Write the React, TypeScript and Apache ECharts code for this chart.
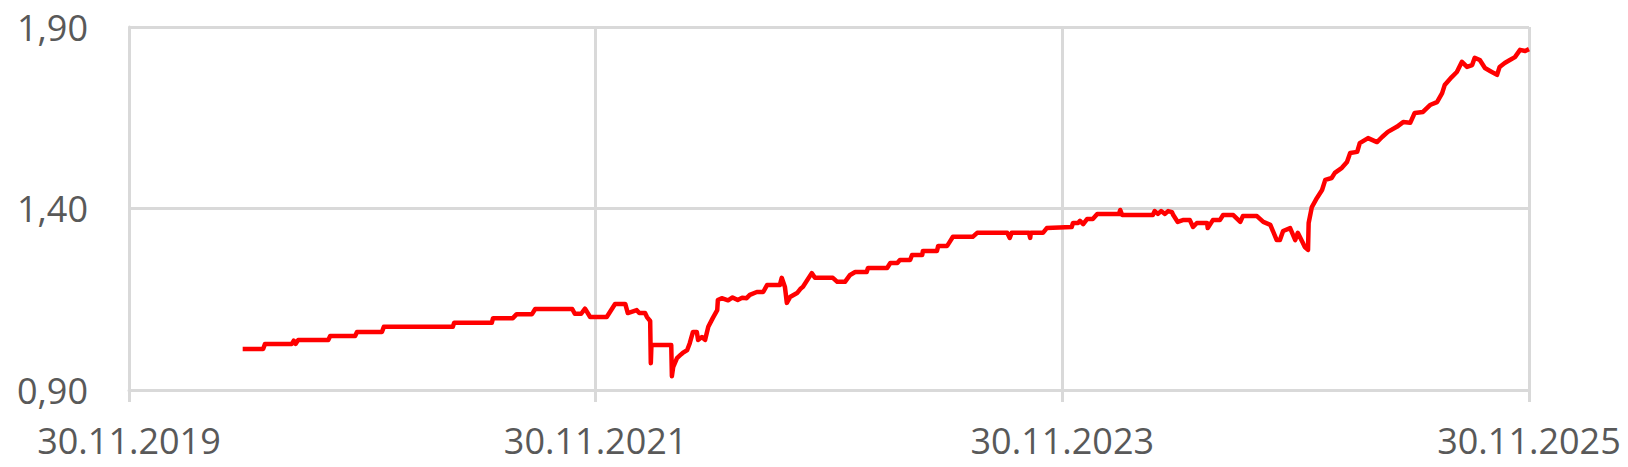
import React, { useEffect, useRef } from "react";
import * as echarts from "echarts";

const startDate = "2019-11-30";
const endDate = "2025-11-30";
const yearTicks = [2019, 2021, 2023, 2025];

const dates = [
  "2020-05-26", "2020-06-27", "2020-06-30", "2020-08-11", "2020-08-14", "2020-08-17", "2020-08-21",
  "2020-10-07", "2020-10-10", "2020-11-18", "2020-11-21", "2020-12-30", "2021-01-02", "2021-04-20",
  "2021-04-22", "2021-06-20", "2021-06-22", "2021-07-23", "2021-07-29", "2021-08-22", "2021-08-27",
  "2021-10-24", "2021-10-28", "2021-11-07", "2021-11-13", "2021-11-21", "2021-12-17", "2021-12-22",
  "2021-12-30", "2022-01-15", "2022-01-19", "2022-02-02", "2022-02-06", "2022-02-15", "2022-02-18",
  "2022-02-23", "2022-02-24", "2022-02-25", "2022-03-28", "2022-03-29", "2022-03-31", "2022-04-06",
  "2022-04-11", "2022-04-15", "2022-04-22", "2022-04-26", "2022-05-01", "2022-05-07", "2022-05-09",
  "2022-05-15", "2022-05-20", "2022-05-25", "2022-06-01", "2022-06-08", "2022-06-09", "2022-06-15",
  "2022-06-25", "2022-07-02", "2022-07-10", "2022-07-17", "2022-07-24", "2022-07-29", "2022-08-09",
  "2022-08-19", "2022-08-25", "2022-09-14", "2022-09-17", "2022-09-22", "2022-09-25", "2022-09-30",
  "2022-10-11", "2022-10-16", "2022-10-20", "2022-11-03", "2022-11-08", "2022-12-06", "2022-12-13",
  "2022-12-25", "2023-01-02", "2023-01-10", "2023-01-28", "2023-01-30", "2023-03-01", "2023-03-06",
  "2023-03-17", "2023-03-21", "2023-04-06", "2023-04-09", "2023-04-25", "2023-04-26", "2023-05-18",
  "2023-05-20", "2023-06-03", "2023-06-07", "2023-06-12", "2023-07-13", "2023-07-20", "2023-09-05",
  "2023-09-09", "2023-09-12", "2023-10-09", "2023-10-11", "2023-10-12", "2023-10-31", "2023-11-06",
  "2023-12-15", "2023-12-17", "2023-12-25", "2023-12-28", "2024-01-02", "2024-01-08", "2024-01-17",
  "2024-01-24", "2024-02-27", "2024-02-29", "2024-03-03", "2024-04-20", "2024-04-23", "2024-04-28",
  "2024-05-03", "2024-05-09", "2024-05-14", "2024-05-20", "2024-05-22", "2024-05-29", "2024-06-06",
  "2024-06-17", "2024-06-22", "2024-06-28", "2024-07-14", "2024-07-15", "2024-07-23", "2024-08-03",
  "2024-08-08", "2024-08-24", "2024-09-04", "2024-09-08", "2024-09-30", "2024-10-10", "2024-10-21",
  "2024-10-31", "2024-11-05", "2024-11-10", "2024-11-21", "2024-11-29", "2024-12-03", "2024-12-11",
  "2024-12-14", "2024-12-19", "2024-12-20", "2024-12-25", "2025-01-02", "2025-01-10", "2025-01-15",
  "2025-01-25", "2025-01-30", "2025-02-10", "2025-02-18", "2025-02-23", "2025-03-06", "2025-03-10",
  "2025-03-23", "2025-04-06", "2025-04-14", "2025-04-23", "2025-05-07", "2025-05-17", "2025-05-28",
  "2025-06-04", "2025-06-17", "2025-06-28", "2025-07-09", "2025-07-17", "2025-07-21", "2025-08-01",
  "2025-08-09", "2025-08-17", "2025-08-25", "2025-09-02", "2025-09-06", "2025-09-14", "2025-09-22",
  "2025-09-30", "2025-10-11", "2025-10-15", "2025-10-23", "2025-10-31", "2025-11-08", "2025-11-16",
  "2025-11-24", "2025-11-30",
];

const values = [
  1.013, 1.013, 1.027, 1.027, 1.036, 1.027, 1.038,
  1.038, 1.049, 1.049, 1.06, 1.06, 1.074, 1.074,
  1.085, 1.085, 1.098, 1.098, 1.109, 1.109, 1.123,
  1.123, 1.11, 1.11, 1.124, 1.101, 1.101, 1.115,
  1.137, 1.137, 1.112, 1.12, 1.112, 1.112, 1.101,
  1.09, 0.974, 1.024, 1.024, 0.938, 0.963, 0.988,
  0.996, 1.002, 1.01, 1.029, 1.06, 1.06, 1.038,
  1.046, 1.038, 1.074, 1.098, 1.12, 1.148, 1.153,
  1.147, 1.155, 1.148, 1.154, 1.153, 1.162, 1.17,
  1.17, 1.189, 1.189, 1.209, 1.184, 1.14, 1.156,
  1.167, 1.178, 1.184, 1.222, 1.209, 1.209, 1.198,
  1.198, 1.217, 1.225, 1.225, 1.236, 1.236, 1.25,
  1.25, 1.258, 1.258, 1.272, 1.272, 1.283, 1.283,
  1.297, 1.297, 1.308, 1.322, 1.322, 1.333, 1.333,
  1.319, 1.333, 1.333, 1.319, 1.333, 1.333, 1.346,
  1.349, 1.36, 1.36, 1.366, 1.357, 1.371, 1.371,
  1.385, 1.385, 1.396, 1.382, 1.382, 1.393, 1.385,
  1.393, 1.385, 1.393, 1.39, 1.382, 1.363, 1.368,
  1.368, 1.349, 1.36, 1.36, 1.346, 1.368, 1.368,
  1.382, 1.382, 1.363, 1.379, 1.379, 1.363, 1.355,
  1.313, 1.313, 1.338, 1.346, 1.313, 1.333, 1.305,
  1.294, 1.286, 1.36, 1.404, 1.429, 1.451, 1.479,
  1.484, 1.498, 1.512, 1.528, 1.553, 1.556, 1.58,
  1.594, 1.583, 1.597, 1.611, 1.625, 1.638, 1.636,
  1.663, 1.666, 1.685, 1.693, 1.718, 1.74, 1.762,
  1.776, 1.804, 1.79, 1.795, 1.815, 1.809, 1.787,
  1.779, 1.768, 1.79, 1.801, 1.809, 1.817, 1.837,
  1.834, 1.839,
];

const yTicks = { min: 0.9, max: 1.9, step: 0.5 };

const GRID = "#d9d9d9";
const TEXT = "#595959";
const FONT = "'Open Sans', sans-serif";

export default function App() {
  const ref = useRef<HTMLDivElement>(null);
  useEffect(() => {
    if (!ref.current) return;
    const chart = echarts.init(ref.current, null, { renderer: "svg" });
    const t0 = Date.parse(startDate);
    const t1 = Date.parse(endDate);
    const span = yearTicks[yearTicks.length - 1] - yearTicks[0];
    const toYears = (d: string) => ((Date.parse(d) - t0) / (t1 - t0)) * span;
    const data = dates.map((d, i) => [toYears(d), values[i]]);
    chart.setOption({
      animation: false,
      grid: { left: 129, right: 99, top: 27, bottom: 77, containLabel: false },
      xAxis: {
        type: "value",
        min: 0,
        max: span,
        interval: 2,
        axisLine: { show: true, lineStyle: { color: GRID, width: 3 } },
        axisTick: { show: true, length: 12, lineStyle: { color: GRID, width: 3 } },
        splitLine: { show: true, lineStyle: { color: GRID, width: 3 } },
        axisLabel: {
          formatter: (v: number) => "30.11." + (yearTicks[0] + Math.round(v)),
          color: TEXT,
          fontSize: 36,
          fontFamily: FONT,
          margin: 32,
        },
      },
      yAxis: {
        type: "value",
        min: yTicks.min,
        max: yTicks.max,
        interval: yTicks.step,
        axisLine: { show: true, lineStyle: { color: GRID, width: 3 } },
        axisTick: { show: false },
        splitLine: { show: true, lineStyle: { color: GRID, width: 3 } },
        axisLabel: {
          formatter: (v: number) => v.toFixed(2).replace(".", ","),
          color: TEXT,
          fontSize: 36,
          fontFamily: FONT,
          margin: 41,
        },
      },
      series: [
        {
          type: "line",
          data,
          showSymbol: false,
          symbol: "none",
          lineStyle: { color: "#ff0000", width: 4.5, join: "round" },
          itemStyle: { color: "#ff0000" },
        },
      ],
    });
    return () => chart.dispose();
  }, []);
  return (
    <div
      ref={ref}
      style={{ position: "fixed", left: 0, top: 0, width: 1628, height: 467, background: "#fff" }}
    />
  );
}
